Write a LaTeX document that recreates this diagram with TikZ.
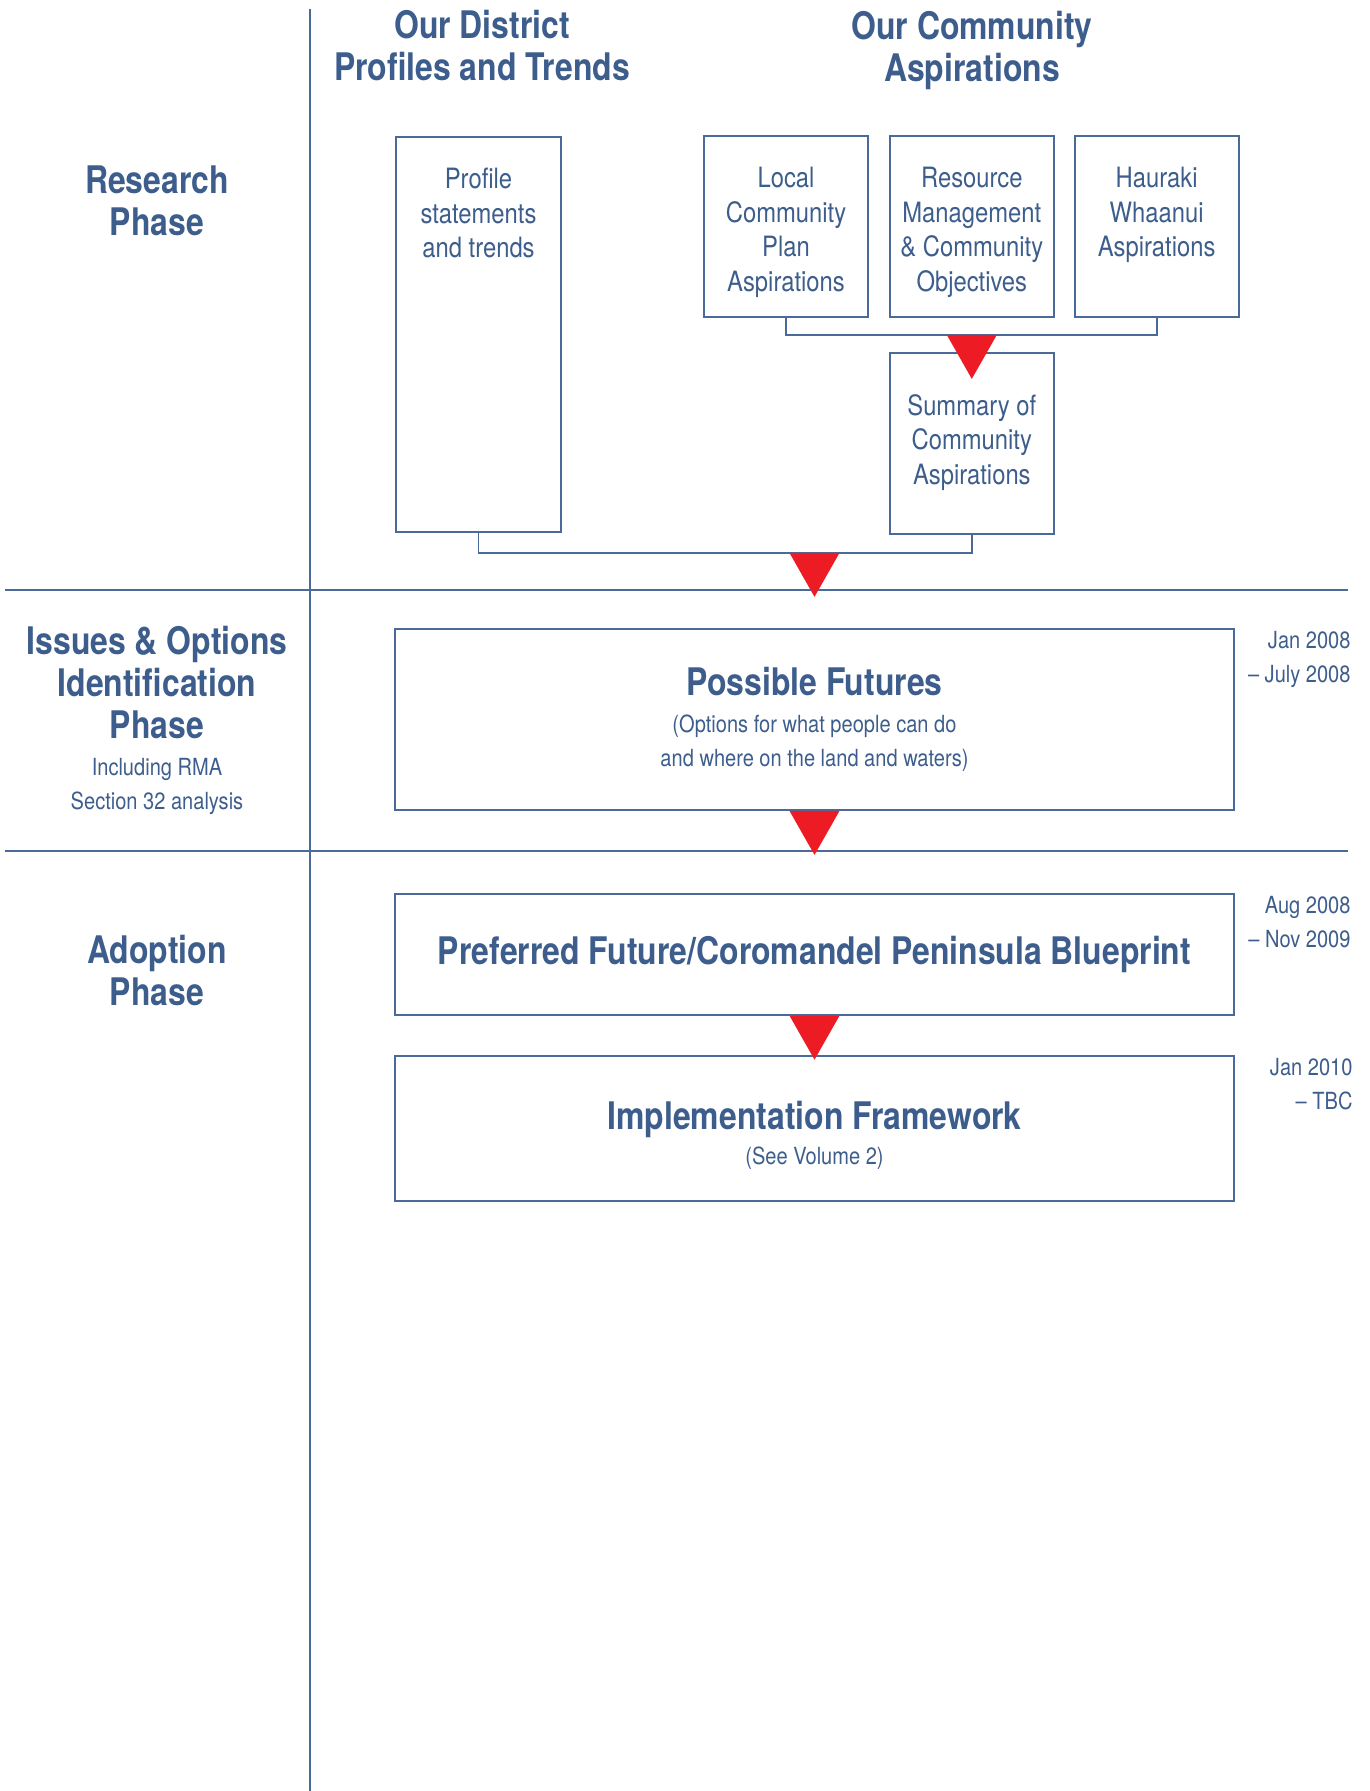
\documentclass[tikz,border=0pt]{standalone}
\usepackage{fontspec}
\setmainfont{TeX Gyre Heros}
\newfontfamily\thinfam[FakeStretch=0.85]{TeX Gyre Heros}
\newfontfamily\boldfam[FakeStretch=0.84]{TeX Gyre Heros}
\usetikzlibrary{positioning}
\definecolor{cpblue}{HTML}{3D5E8C}
\definecolor{cpline}{HTML}{4A6B9A}
\definecolor{cpred}{HTML}{ED1C24}
\tikzset{
  phase/.style={text=cpblue, align=center, inner sep=0pt, font=\boldfam\bfseries\fontsize{19}{21}\selectfont},
  note/.style={text=cpblue, align=center, inner sep=0pt, font=\thinfam\fontsize{11.8}{17}\selectfont},
  boxtext/.style={text=cpblue, align=center, inner sep=0pt, font=\thinfam\fontsize{14}{17.3}\selectfont},
  stage/.style={draw=cpline, line width=0.9pt, inner sep=0pt},
  small/.style={stage, minimum width=82pt, minimum height=90.5pt},
  wide/.style={stage, minimum width=419.5pt},
  link/.style={draw=cpline, line width=0.9pt},
  date/.style={note, align=right, anchor=north east}
}
\begin{document}
\begin{tikzpicture}[x=0.5pt, y=-0.5pt]
  \useasboundingbox (0,0) rectangle (1369,1791);
  \draw[link] (310,9) -- (310,1791);
  \draw[link] (5,590) -- (1348,590);
  \draw[link] (5,851) -- (1348,851);

  \node[phase] (dist) at (482,46) {Our District\\Profiles and Trends};
  \node[phase] (comm) at (972,50) {Our Community\\Aspirations};
  \node[phase] (research) at (157,201) {Research\\Phase};
  \node[phase] (issues) at (157,683) {Issues \& Options\\Identification\\Phase};
  \node[note, below=9pt of issues] (rma) {Including RMA\\Section 32 analysis};
  \node[phase] (adopt) at (157,971) {Adoption\\Phase};

  \node[stage, minimum width=82.5pt, minimum height=197.5pt] (prof) at (478.5,334.5) {};
  \node[small] (local) at (786,226.5) {};
  \node[small, right=10pt of local] (res) {};
  \node[small, right=9.5pt of res] (hau) {};
  \node[small, below=17pt of res] (summ) {};
  \node[boxtext, below=15.8pt of prof.north] {Profile\\statements\\and trends};
  \node[boxtext, below=15.8pt of local.north] {Local\\Community\\Plan\\Aspirations};
  \node[boxtext, below=15.8pt of res.north] {Resource\\Management\\\& Community\\Objectives};
  \node[boxtext, below=15.8pt of hau.north] {Hauraki\\Whaanui\\Aspirations};
  \node[boxtext, below=21pt of summ.north] {Summary of\\Community\\Aspirations};

  \node[wide, minimum height=90.5pt] (pf) at (814.5,719.5) {};
  \node[phase, below=19.5pt of pf.north] (pft) {Possible Futures};
  \node[note, below=9pt of pft] {(Options for what people can do\\and where on the land and waters)};
  \node[wide, minimum height=60.5pt, below=41pt of pf, phase, draw=cpline] (pref) {Preferred Future/Coromandel Peninsula Blueprint};
  \node[wide, minimum height=72.5pt, below=19.5pt of pref] (impl) {};
  \node[phase, below=23pt of impl.north] (implt) {Implementation Framework};
  \node[note, below=4pt of implt] {(See Volume 2)};

  \node[date] at ([xshift=58pt,yshift=-1.5pt]pf.north east) {Jan 2008\\\textendash\ July 2008};
  \node[date] at ([xshift=58pt,yshift=-1.5pt]pref.north east) {Aug 2008\\\textendash\ Nov 2009};
  \node[date] at ([xshift=59pt,yshift=-1.5pt]impl.north east) {Jan 2010\\\textendash\ TBC};

  \draw[link] (local.south) -- ++(0,17) coordinate (ja) -| (hau.south);
  \draw[link] (prof.south) -- ++(0,20) coordinate (jb) -| (summ.south);
  \coordinate (t1) at (ja -| summ.north);
  \coordinate (t2) at (jb -| pf.north);
  \foreach \c in {t1,t2,pf.south,pref.south}
    \fill[cpred] (\c) ++(-25,0) -- ++(50,0) -- ++(-25,44) -- cycle;
\end{tikzpicture}
\end{document}
